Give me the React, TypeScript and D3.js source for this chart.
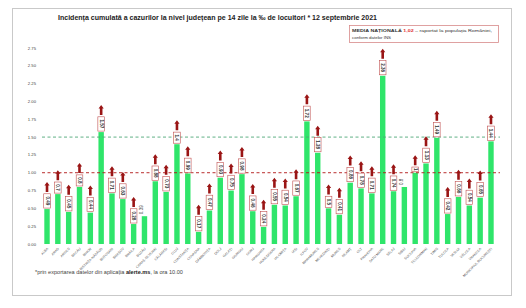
import React from "react";
import * as d3 from "d3";

const counties = [
  "ALBA", "ARAD", "ARGEȘ", "BACĂU", "BIHOR", "BISTRIȚA-NĂSĂUD", "BOTOȘANI", "BRAȘOV",
  "BRĂILA", "BUZĂU", "CARAȘ-SEVERIN", "CĂLĂRAȘI", "CLUJ", "CONSTANȚA", "COVASNA",
  "DÂMBOVIȚA", "DOLJ", "GALAȚI", "GIURGIU", "GORJ", "HARGHITA", "HUNEDOARA", "IALOMIȚA",
  "IAȘI", "ILFOV", "MARAMUREȘ", "MEHEDINȚI", "MUREȘ", "NEAMȚ", "OLT", "PRAHOVA",
  "SATU MARE", "SĂLAJ", "SIBIU", "SUCEAVA", "TELEORMAN", "TIMIȘ", "TULCEA", "VASLUI",
  "VÂLCEA", "VRANCEA", "MUNICIPIUL BUCUREȘTI",
];

const values = [
  0.49, 0.7, 0.45, 0.8, 0.44, 1.57, 0.71, 0.63, 0.28, 0.39, 0.88, 0.73, 1.4, 0.99, 0.17,
  0.47, 0.93, 0.75, 0.98, 0.46, 0.24, 0.55, 0.54, 0.67, 1.72, 1.28, 0.5, 0.41, 0.86, 0.78,
  0.71, 2.36, 0.74, 0.8, 1, 1.13, 1.49, 0.42, 0.66, 0.54, 0.65, 1.44,
];

const labels = [
  "0.49", "0.7", "0.45", "0.8", "0.44", "1.57", "0.71", "0.63", "0.28", "0.39", "0.88",
  "0.73", "1.4", "0.99", "0.17", "0.47", "0.93", "0.75", "0.98", "0.46", "0.24", "0.55",
  "0.54", "0.67", "1.72", "1.28", "0.5", "0.41", "0.86", "0.78", "0.71", "2.36", "0.74",
  "0.8", "1", "1.13", "1.49", "0.42", "0.66", "0.54", "0.65", "1.44",
];

// 1 = rising (arrow up), 0 = no arrow
const trend = [
  1, 1, 1, 1, 1, 1, 1, 1, 1, 0, 1, 1, 1, 1, 1, 1, 1, 1, 1, 1, 1, 1, 1, 1, 1, 1, 1, 1, 1, 1,
  1, 1, 1, 0, 1, 1, 1, 1, 1, 1, 1, 1,
];

const yTicks = [0, 0.25, 0.5, 0.75, 1, 1.25, 1.5, 1.75, 2, 2.25, 2.5, 2.75];
const redLine = 1.0;
const greenLine = 1.5;

const W = 526;
const H = 308;

export default function App() {
  const x = d3.scaleBand<string>().domain(counties).range([41.6, 496.4]).padding(0);
  const y = d3.scaleLinear().domain([0, 2.75]).range([244, 48]);
  const bw = x.bandwidth() * 0.5;
  const font = "'Liberation Sans', Arial, sans-serif";

  return (
    <svg
      width={W}
      height={H}
      viewBox={`0 0 ${W} ${H}`}
      style={{ position: "absolute", left: 0, top: 0, background: "#fff" }}
      fontFamily={font}
    >
      <rect x={12.5} y={8.5} width={499} height={287} fill="#fff" stroke="#c9c9c9" strokeWidth={1} />

      <text
        x={58}
        y={20}
        fontSize={7.4}
        fontWeight="bold"
        fill="#222"
        textLength={319}
        lengthAdjust="spacingAndGlyphs"
      >
        Incidența cumulată a cazurilor la nivel județean pe 14 zile la ‰ de locuitori * 12 septembrie 2021
      </text>

      <rect x={349.5} y={25.5} width={149} height={17} fill="#fff" stroke="#d88a8a" strokeWidth={0.8} />
      <text x={352} y={32} fontSize={4.4} fill="#333" textLength={140} lengthAdjust="spacingAndGlyphs">
        <tspan fontWeight="bold">MEDIA NAȚIONALĂ </tspan>
        <tspan fontWeight="bold" fill="#e03030">1,02</tspan>
        <tspan> – raportat la populația României,</tspan>
      </text>
      <text x={352} y={38.5} fontSize={4.4} fill="#333">
        conform datelor INS
      </text>

      {yTicks.map((t) => (
        <text key={t} x={36} y={y(t) + 1.5} fontSize={4.2} textAnchor="end" fill="#444">
          {t.toFixed(2)}
        </text>
      ))}

      {values.map((v, i) => (
        <rect
          key={counties[i]}
          x={(x(counties[i]) as number) + (x.bandwidth() - bw) / 2}
          y={y(v)}
          width={bw}
          height={y(0) - y(v)}
          fill="#2fe56a"
        />
      ))}

      <line x1={42} x2={500} y1={y(greenLine)} y2={y(greenLine)} stroke="#4fa878" strokeWidth={0.9} strokeDasharray="3,2.5" />
      <line x1={42} x2={500} y1={y(redLine)} y2={y(redLine)} stroke="#b01515" strokeWidth={0.9} strokeDasharray="3,2.5" />

      {values.map((v, i) => {
        const cx = (x(counties[i]) as number) + x.bandwidth() / 2;
        const lab = labels[i];
        const boxH = 3.2 * lab.length + 1.5;
        const boxW = 6.6;
        const top = y(v) - 1;
        if (!trend[i]) {
          return (
            <text
              key={"l" + i}
              transform={`translate(${cx - 1.4},${top - 1}) rotate(-90)`}
              fontSize={4.6}
              fill="#333"
            >
              {lab}
            </text>
          );
        }
        const by = top - boxH;
        const ay = by - 1.8;
        const arrow = `M${cx},${ay - 10} L${cx + 2.6},${ay - 6.5} L${cx + 1.3},${ay - 6.5} L${cx + 1.3},${ay} L${cx - 1.3},${ay} L${cx - 1.3},${ay - 6.5} L${cx - 2.6},${ay - 6.5} Z`;
        return (
          <g key={"l" + i}>
            <rect x={cx - boxW / 2} y={by} width={boxW} height={boxH} fill="#fff" stroke="#c05050" strokeWidth={0.6} />
            <text
              transform={`translate(${cx - 1.5},${by + boxH / 2}) rotate(90)`}
              fontSize={4.6}
              fontWeight="bold"
              fill="#333"
              textAnchor="middle"
            >
              {lab}
            </text>
            <path d={arrow} fill="#9a1515" />
          </g>
        );
      })}

      {counties.map((c) => {
        const cx = (x(c) as number) + x.bandwidth() / 2;
        return (
          <text
            key={"x" + c}
            transform={`translate(${cx + 1.5},${249}) rotate(-45)`}
            fontSize={3.4}
            textAnchor="end"
            fill="#555"
          >
            {c}
          </text>
        );
      })}

      <text x={35} y={274} fontSize={4.8} fill="#444" textLength={148} lengthAdjust="spacingAndGlyphs">
        *prin exportarea datelor din aplicația <tspan fontWeight="bold" fill="#222">alerte.ms</tspan>, la ora 10.00
      </text>
    </svg>
  );
}
